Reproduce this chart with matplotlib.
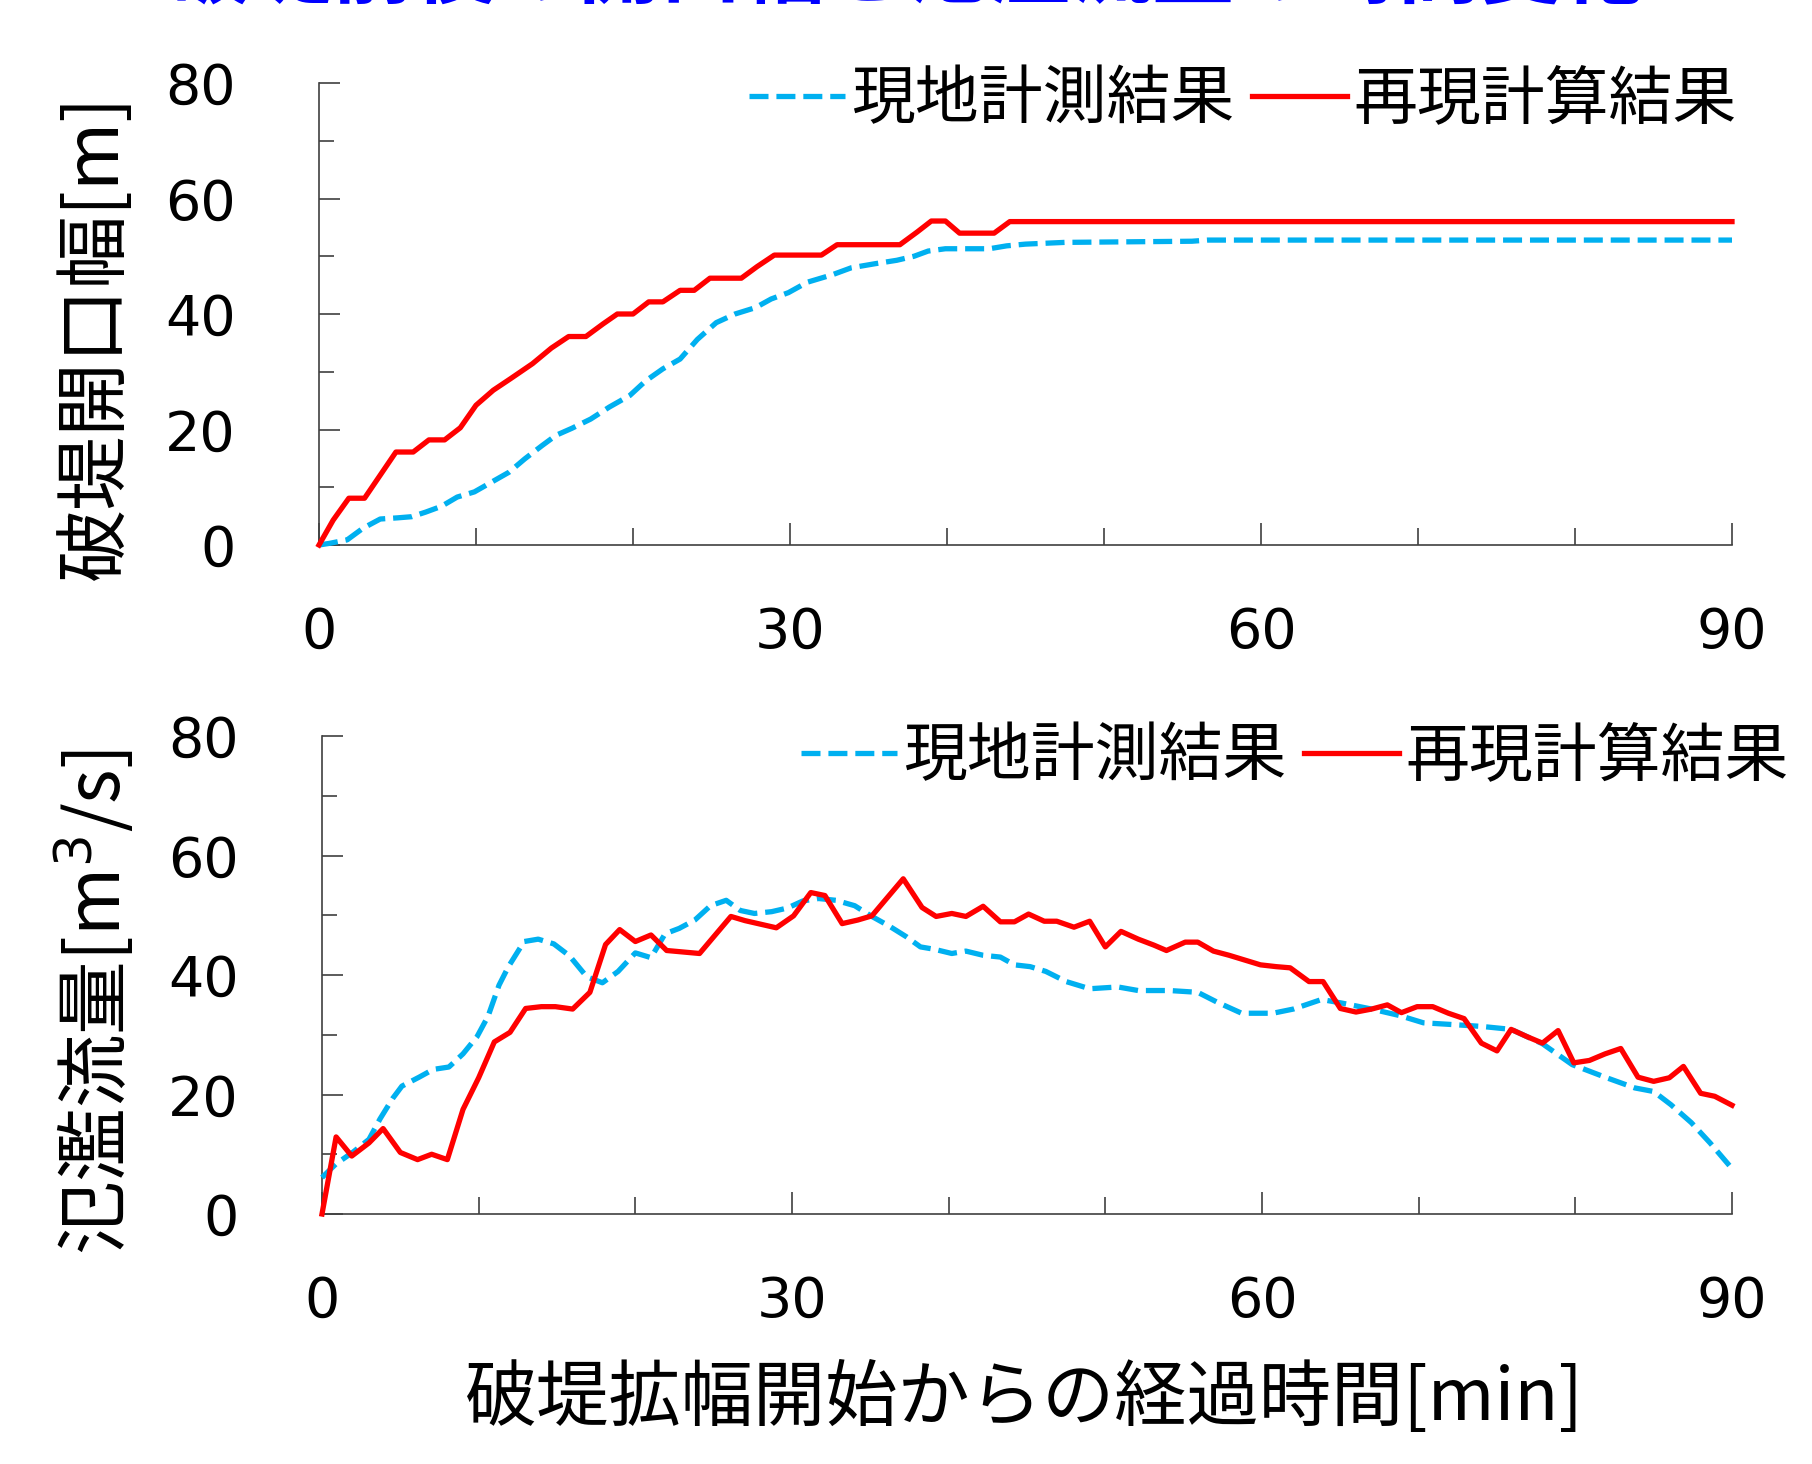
import matplotlib
matplotlib.use('Agg')
import matplotlib.pyplot as plt
from matplotlib.ticker import MultipleLocator
from matplotlib.font_manager import FontProperties
from matplotlib.lines import Line2D

# ---------------- data ----------------
title = "破堤前後の開口幅と氾濫流量の時間変化"
ylabel_top = "破堤開口幅[m]"
ylabel_bottom = "氾濫流量[m$^{3}$/s]"
xlabel = "破堤拡幅開始からの経過時間[min]"
legend_labels = ["現地計測結果", "再現計算結果"]
x_ticks = [0, 30, 60, 90]
y_ticks = [0, 20, 40, 60, 80]

# breach width, measured
t_w_obs = [0, 0.7, 1.8, 2.8, 3.9, 5.0, 5.9, 6.8, 7.8, 8.8,
           9.9, 11.0, 12.1, 13.1, 14.2, 15.1, 16.1, 17.3, 18.5, 19.8,
           20.8, 21.9, 23.0, 24.1, 25.3, 26.5, 27.8, 28.8, 29.9, 31.1,
           32.7, 33.9, 35.4, 36.8, 37.9, 38.8, 39.9, 42.7, 43.8, 45.0,
           47.5, 55.6, 56.6, 90]
w_obs = [0, 0.3, 0.9, 2.9, 4.5, 4.7, 4.9, 5.7, 6.7, 8.3,
         9.2, 10.9, 12.6, 14.9, 17.2, 19.0, 20.2, 21.8, 23.9, 25.9,
         28.4, 30.5, 32.2, 35.6, 38.5, 40.0, 41.1, 42.6, 43.7, 45.5,
         46.8, 48.0, 48.7, 49.3, 50.0, 50.9, 51.3, 51.3, 51.8, 52.1,
         52.4, 52.6, 52.8, 52.8]

# breach width, computed
t_w_calc = [0, 0.9, 1.9, 2.9, 3.9, 4.9, 6.0, 7.0, 8.0, 9.0,
            10.0, 11.1, 12.2, 13.6, 14.8, 15.9, 17.0, 18.1, 19.0, 20.0,
            21.0, 21.9, 23.0, 23.9, 24.9, 26.9, 27.9, 29.0, 32.0, 33.0,
            37.0, 38.1, 39.0, 39.9, 40.8, 43.0, 44.0, 90]
w_calc = [0, 4.3, 8.1, 8.1, 12.1, 16.1, 16.1, 18.2, 18.2, 20.3,
          24.2, 26.8, 28.8, 31.4, 34.1, 36.1, 36.1, 38.3, 40.0, 40.0,
          42.1, 42.1, 44.1, 44.1, 46.2, 46.2, 48.2, 50.2, 50.2, 52.0,
          52.0, 54.2, 56.1, 56.1, 54.0, 54.0, 56.0, 56.0]

# overflow discharge, measured
t_q_obs = [0, 0.9, 2.0, 3.0, 3.7, 4.5, 5.1, 6.2, 7.1, 8.1,
           9.0, 9.9, 10.6, 11.3, 11.9, 12.9, 13.8, 14.8, 15.8, 16.9,
           17.9, 18.9, 20.0, 21.0, 21.9, 22.8, 23.8, 24.8, 25.8, 26.7,
           27.6, 28.7, 29.7, 30.7, 31.7, 32.8, 34.0, 35.1, 36.2, 37.3,
           38.2, 39.1, 40.2, 41.1, 42.2, 43.3, 44.2, 45.2, 46.2, 47.5,
           49.0, 50.8, 52.1, 54.1, 55.9, 57.1, 58.7, 60.7, 62.0, 63.8,
           65.1, 67.0, 68.8, 70.3, 72.2, 74.0, 75.9, 77.9, 79.8, 82.0,
           83.8, 85.0, 86.1, 87.4, 88.6, 90.0]
q_obs = [6.1, 8.4, 10.4, 12.5, 15.9, 19.3, 21.4, 22.9, 24.2, 24.6,
         26.8, 29.7, 33.1, 38.3, 41.4, 45.6, 46.0, 45.2, 43.2, 39.7,
         38.7, 40.6, 43.7, 42.9, 46.9, 47.8, 49.2, 51.6, 52.5, 50.8,
         50.3, 50.6, 51.2, 52.4, 52.8, 52.5, 51.6, 49.8, 48.2, 46.4,
         44.7, 44.3, 43.6, 44.0, 43.3, 43.0, 41.7, 41.4, 40.6, 38.9,
         37.7, 38.0, 37.4, 37.4, 37.1, 35.5, 33.6, 33.6, 34.3, 35.9,
         35.3, 34.3, 33.2, 32.0, 31.7, 31.4, 30.9, 28.5, 25.0, 22.8,
         21.1, 20.5, 18.3, 15.3, 11.9, 7.6]

# overflow discharge, computed
t_q_calc = [0, 0.9, 1.9, 3.0, 3.9, 5.0, 6.1, 7.0, 8.0, 9.0,
            10.0, 11.0, 12.0, 13.0, 14.0, 14.9, 16.0, 17.1, 18.1, 19.0,
            20.0, 21.0, 22.0, 24.1, 26.1, 27.0, 29.0, 30.1, 31.2, 32.1,
            33.2, 34.2, 35.1, 37.1, 38.3, 39.2, 40.2, 41.1, 42.2, 43.3,
            44.2, 45.1, 46.1, 46.9, 48.0, 49.0, 50.0, 51.0, 52.1, 53.1,
            53.9, 55.1, 55.9, 56.9, 57.9, 58.9, 59.9, 60.9, 61.8, 63.0,
            63.9, 65.0, 66.0, 67.0, 68.0, 68.9, 69.9, 70.9, 71.9, 72.9,
            74.0, 75.0, 75.9, 76.9, 77.9, 78.9, 79.9, 80.9, 81.9, 82.9,
            84.0, 85.0, 86.0, 86.9, 88.0, 88.9, 90.0]
q_calc = [0, 12.9, 9.7, 11.9, 14.3, 10.3, 9.1, 10.0, 9.1, 17.5,
          22.8, 28.8, 30.4, 34.4, 34.7, 34.7, 34.3, 37.1, 45.1, 47.6,
          45.6, 46.7, 44.1, 43.6, 49.8, 49.1, 47.9, 49.9, 53.8, 53.3,
          48.6, 49.2, 49.9, 56.1, 51.3, 49.8, 50.3, 49.8, 51.5, 48.9,
          48.9, 50.2, 49.0, 49.0, 48.0, 49.0, 44.7, 47.3, 46.0, 45.0,
          44.1, 45.5, 45.5, 44.0, 43.3, 42.5, 41.7, 41.4, 41.2, 38.9,
          38.9, 34.4, 33.8, 34.3, 35.0, 33.7, 34.7, 34.7, 33.6, 32.7,
          28.6, 27.3, 30.9, 29.7, 28.6, 30.7, 25.3, 25.7, 26.8, 27.7,
          22.9, 22.2, 22.8, 24.7, 20.2, 19.7, 18.2]

# ---------------- style ----------------
JP = ['Noto Sans CJK JP', 'DejaVu Sans']
BLUE = '#00B0F0'
RED = '#FF0000'
SPINE = '#404040'

fig = plt.figure(figsize=(18.12, 14.64), dpi=100)
W, H = 1812.0, 1464.0


def px_axes(left, right, top, bottom):
    return [left / W, 1 - bottom / H, (right - left) / W, (bottom - top) / H]


ax1 = fig.add_axes(px_axes(319, 1732, 83, 545))
ax2 = fig.add_axes(px_axes(322, 1732, 736, 1214))


def style(ax):
    for s in ['top', 'right']:
        ax.spines[s].set_visible(False)
    for s in ['left', 'bottom']:
        ax.spines[s].set_color(SPINE)
        ax.spines[s].set_linewidth(1.2)
    ax.set_xlim(0, 90)
    ax.set_ylim(0, 80)
    ax.set_xticks(x_ticks)
    ax.set_yticks(y_ticks)
    ax.xaxis.set_minor_locator(MultipleLocator(10))
    ax.yaxis.set_minor_locator(MultipleLocator(10))
    ax.tick_params(which='both', direction='in', color=SPINE, width=1.2,
                   labelsize=40, labelcolor='black')
    ax.tick_params(axis='x', which='major', length=16, pad=44)
    ax.tick_params(axis='x', which='minor', length=12)
    ax.tick_params(axis='y', which='major', length=15, pad=60)
    ax.tick_params(axis='y', which='minor', length=11)
    for lab in ax.get_xticklabels() + ax.get_yticklabels():
        lab.set_fontfamily('DejaVu Sans')


DASH = (3.6, 1.5)
LW = 3.8

ax1.plot(t_w_obs, w_obs, color=BLUE, lw=LW, linestyle=(0, DASH), clip_on=False, zorder=3)
ax1.plot(t_w_calc, w_calc, color=RED, lw=LW, clip_on=False, zorder=4)
ax2.plot(t_q_obs, q_obs, color=BLUE, lw=LW, linestyle=(0, DASH), clip_on=False, zorder=3)
ax2.plot(t_q_calc, q_calc, color=RED, lw=LW, clip_on=False, zorder=4)

style(ax1)
style(ax2)

handles = [Line2D([], [], color=BLUE, lw=LW, linestyle=(0, DASH)),
           Line2D([], [], color=RED, lw=LW)]
legprop = FontProperties(family=JP, size=46)
for ax, xr, yc in [(ax1, 1737, 100), (ax2, 1789, 757)]:
    ax.legend(handles, legend_labels, loc='center right',
              bbox_to_anchor=(xr / W, 1 - yc / H), bbox_transform=fig.transFigure,
              ncol=2, frameon=False, prop=legprop, handlelength=1.5,
              handletextpad=0.1, columnspacing=0.27, borderpad=0, borderaxespad=0)

fig.text(96 / W, 1 - 337 / H, ylabel_top, rotation=90, ha='center', va='center',
         fontsize=53, family=JP)
fig.text(96 / W, 1 - 1002 / H, ylabel_bottom, rotation=90, ha='center', va='center',
         fontsize=53, family=JP)
fig.text(1024 / W, 1 - 1399 / H, xlabel, ha='center', va='center',
         fontsize=52, family=JP)
fig.text(907 / W, 1 + 4 / H, title, ha='center', va='baseline', fontsize=59,
         family=JP, color='#0000FF', fontweight='bold')

fig.savefig('out.png', dpi=100)
